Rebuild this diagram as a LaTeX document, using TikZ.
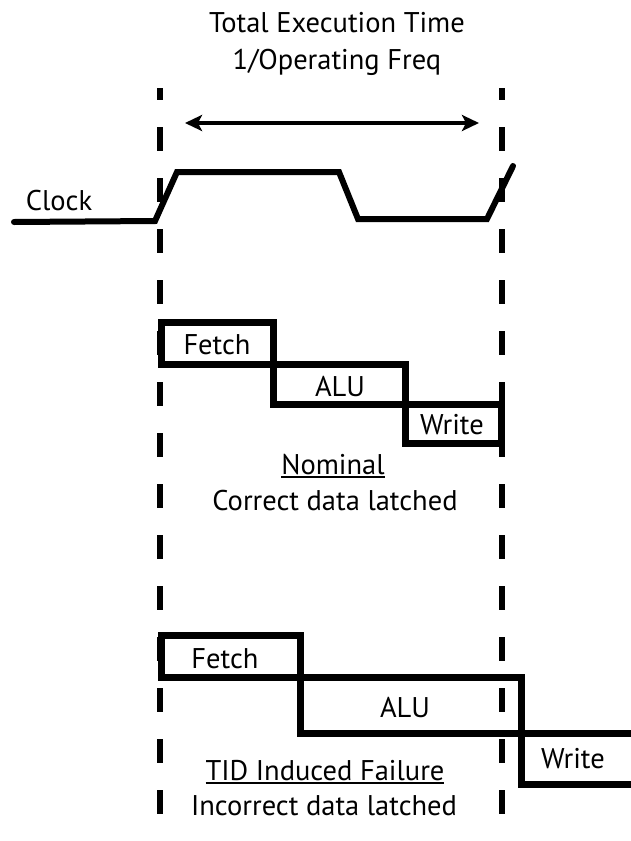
\documentclass[tikz,border=0pt]{standalone}
\usepackage{fontspec}
\setmainfont{PT Sans}
\usetikzlibrary{arrows.meta}
\newcommand{\ulx}[1]{\setbox0\hbox{#1}\rlap{\rule[-4pt]{\wd0}{1.9pt}}\box0}
\begin{document}
\begin{tikzpicture}[x=1pt,y=-1pt,
  lbl/.style={inner sep=0pt, font=\fontsize{28.5}{34}\selectfont},
  guide/.style={line width=6pt, dash pattern=on 24pt off 27pt, dash phase=12pt},
  wave/.style={line width=6pt, line cap=round, line join=miter},
  stage/.style={line width=7pt, line join=miter},
  span/.style={line width=3.6pt, {Stealth[length=17pt,width=16pt,inset=4pt]}-{Stealth[length=17pt,width=16pt,inset=4pt]}}]
  \useasboundingbox (0,0) rectangle (631,841);
  \clip (0,0) rectangle (631,841);

  % period markers
  \draw[guide] (160,88) -- (160,845);
  \draw[guide] (502,88) -- (502,845);

  % title and period arrow
  \node[lbl] (title1) at (337,23) {Total Execution Time};
  \node[lbl] (title2) at (337,62) {1/Operating Freq};
  \coordinate (pl) at (185,123);
  \coordinate (pr) at (479,123);
  \draw[span] (pl) -- (pr);

  % clock waveform
  \node[lbl] (clk) at (59,201) {Clock};
  \draw[wave] (14,222) -- (155,221) -- (177,172) -- (339,172) -- (358,219)
              -- (487,219) -- (513,166);

  % nominal pipeline
  \draw[stage] (161,322) rectangle (273,364);
  \draw[stage] (273,364) rectangle (405,404);
  \draw[stage] (405,404) rectangle (501,443);
  \node[lbl] (nf) at (217,345) {Fetch};
  \node[lbl] (na) at (340,386) {ALU};
  \node[lbl] (nw) at (452,425) {Write};
  \node[lbl] (nom) at (333,466) {\ulx{Nominal}};
  \node[lbl] (nomd) at (335,501) {Correct data latched};

  % failing pipeline
  \draw[stage] (161,635) rectangle (300,677);
  \draw[stage] (300,677) rectangle (521,733);
  \draw[stage] (640,733) -- (521,733) -- (521,784) -- (640,784);
  \node[lbl] (ff) at (225,659) {Fetch};
  \node[lbl] (fa) at (405,707) {ALU};
  \node[lbl] (fw) at (573,759) {Write};
  \node[lbl] (fail) at (325,772) {\ulx{TID Induced Failure}};
  \node[lbl] (faild) at (324,806) {Incorrect data latched};
\end{tikzpicture}
\end{document}
